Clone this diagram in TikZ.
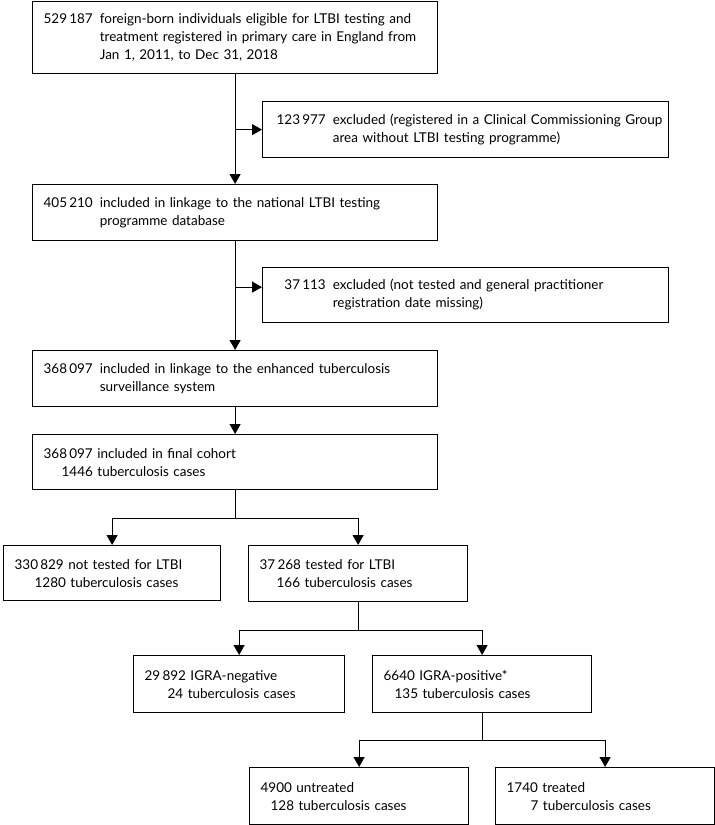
\documentclass[tikz,border=0pt]{standalone}
\usepackage{fontspec}
\setmainfont{Lato}
\usepackage{tikz}
\usetikzlibrary{arrows.meta}
\usetikzlibrary{calc}

\newcommand{\hangtext}[2]{\begin{tabular}[t]{@{}l@{\hspace{7pt}}l@{}}#1 & #2\end{tabular}}

\begin{document}
\begin{tikzpicture}
      [x=1pt,y=-1pt,
       box/.style={draw,line width=1.2pt,anchor=north west,align=left,inner xsep=11pt,inner ysep=0pt,
                   font=\fontsize{13.5}{18}\selectfont},
       arr/.style={line width=1.1pt,-{Triangle[width=11pt,length=10pt]}},
       link/.style={line width=1.1pt}]%main layer

\useasboundingbox (0,0) rectangle (715,825);

%main column
\node[box,text width=383pt,minimum height=72pt] (start) at (32,1)
  {\hangtext{529\,187}{foreign-born individuals eligible for LTBI testing and\\
   & treatment registered in primary care in England from\\ & Jan 1, 2011, to Dec 31, 2018}};
\node[box,text width=383pt,minimum height=56pt] (linkA) at (32,184)
  {\hangtext{405\,210}{included in linkage to the national LTBI testing\\ & programme database}};
\node[box,text width=383pt,minimum height=56pt] (linkB) at (32,350)
  {\hangtext{368\,097}{included in linkage to the enhanced tuberculosis\\ & surveillance system}};
\node[box,text width=383pt,minimum height=55pt] (cohort) at (32,434)
  {368\,097 included in final cohort\\\hspace*{18pt}1446 tuberculosis cases};

%excluded boxes
\node[box,text width=384pt,minimum height=56pt] (exA) at (262,101)
  {\hspace*{3pt}\hangtext{123\,977}{excluded (registered in a Clinical Commissioning Group\\ & area without LTBI testing programme)}};
\node[box,text width=384pt,minimum height=55pt] (exB) at (262,267)
  {\hspace*{3pt}\hangtext{\hphantom{0}37\,113}{excluded (not tested and general practitioner\\ & registration date missing)}};
\coordinate (exBin) at ([yshift=8pt]exB.west);

%testing branches
\node[box,text width=195pt,minimum height=55pt] (untested) at (3,545)
  {330\,829 not tested for LTBI\\\hspace*{20pt}1280 tuberculosis cases};
\node[box,text width=197pt,minimum height=56pt] (tested) at (248,545)
  {37\,268 tested for LTBI\\\hspace*{17pt}166 tuberculosis cases};
\node[box,text width=189pt,minimum height=57pt] (igraneg) at (133,655)
  {29\,892 IGRA-negative\\\hspace*{23pt}24 tuberculosis cases};
\node[box,text width=197pt,minimum height=57pt] (igrapos) at (372,655)
  {6640 IGRA-positive*\\\hspace*{11pt}135 tuberculosis cases};
\node[box,text width=197pt,minimum height=57pt] (untreated) at (249,767)
  {4900 untreated\\\hspace*{10pt}128 tuberculosis cases};
\node[box,text width=197pt,minimum height=57pt] (treated) at (495,767)
  {1740 treated\\\hspace*{24pt}7 tuberculosis cases};

%connectors
\draw[arr] (start.south) -- (linkA.north);
\draw[arr] (start.south |- exA.west) -- (exA.west);
\draw[arr] (linkA.south) -- (linkB.north);
\draw[arr] (linkA.south |- exBin) -- (exBin);
\draw[arr] (linkB.south) -- (cohort.north);

\draw[link] (cohort.south) -- ++(0,28) coordinate (split1);
\draw[arr] (split1) -| (untested.north);
\draw[arr] (split1) -| (tested.north);

\draw[link] (tested.south) -- ++(0,28) coordinate (split2);
\draw[arr] (split2) -| (igraneg.north);
\draw[arr] (split2) -| (igrapos.north);

\draw[link] (igrapos.south) -- ++(0,27) coordinate (split3);
\draw[arr] (split3) -| (untreated.north);
\draw[arr] (split3) -| (treated.north);

\end{tikzpicture}
\end{document}
